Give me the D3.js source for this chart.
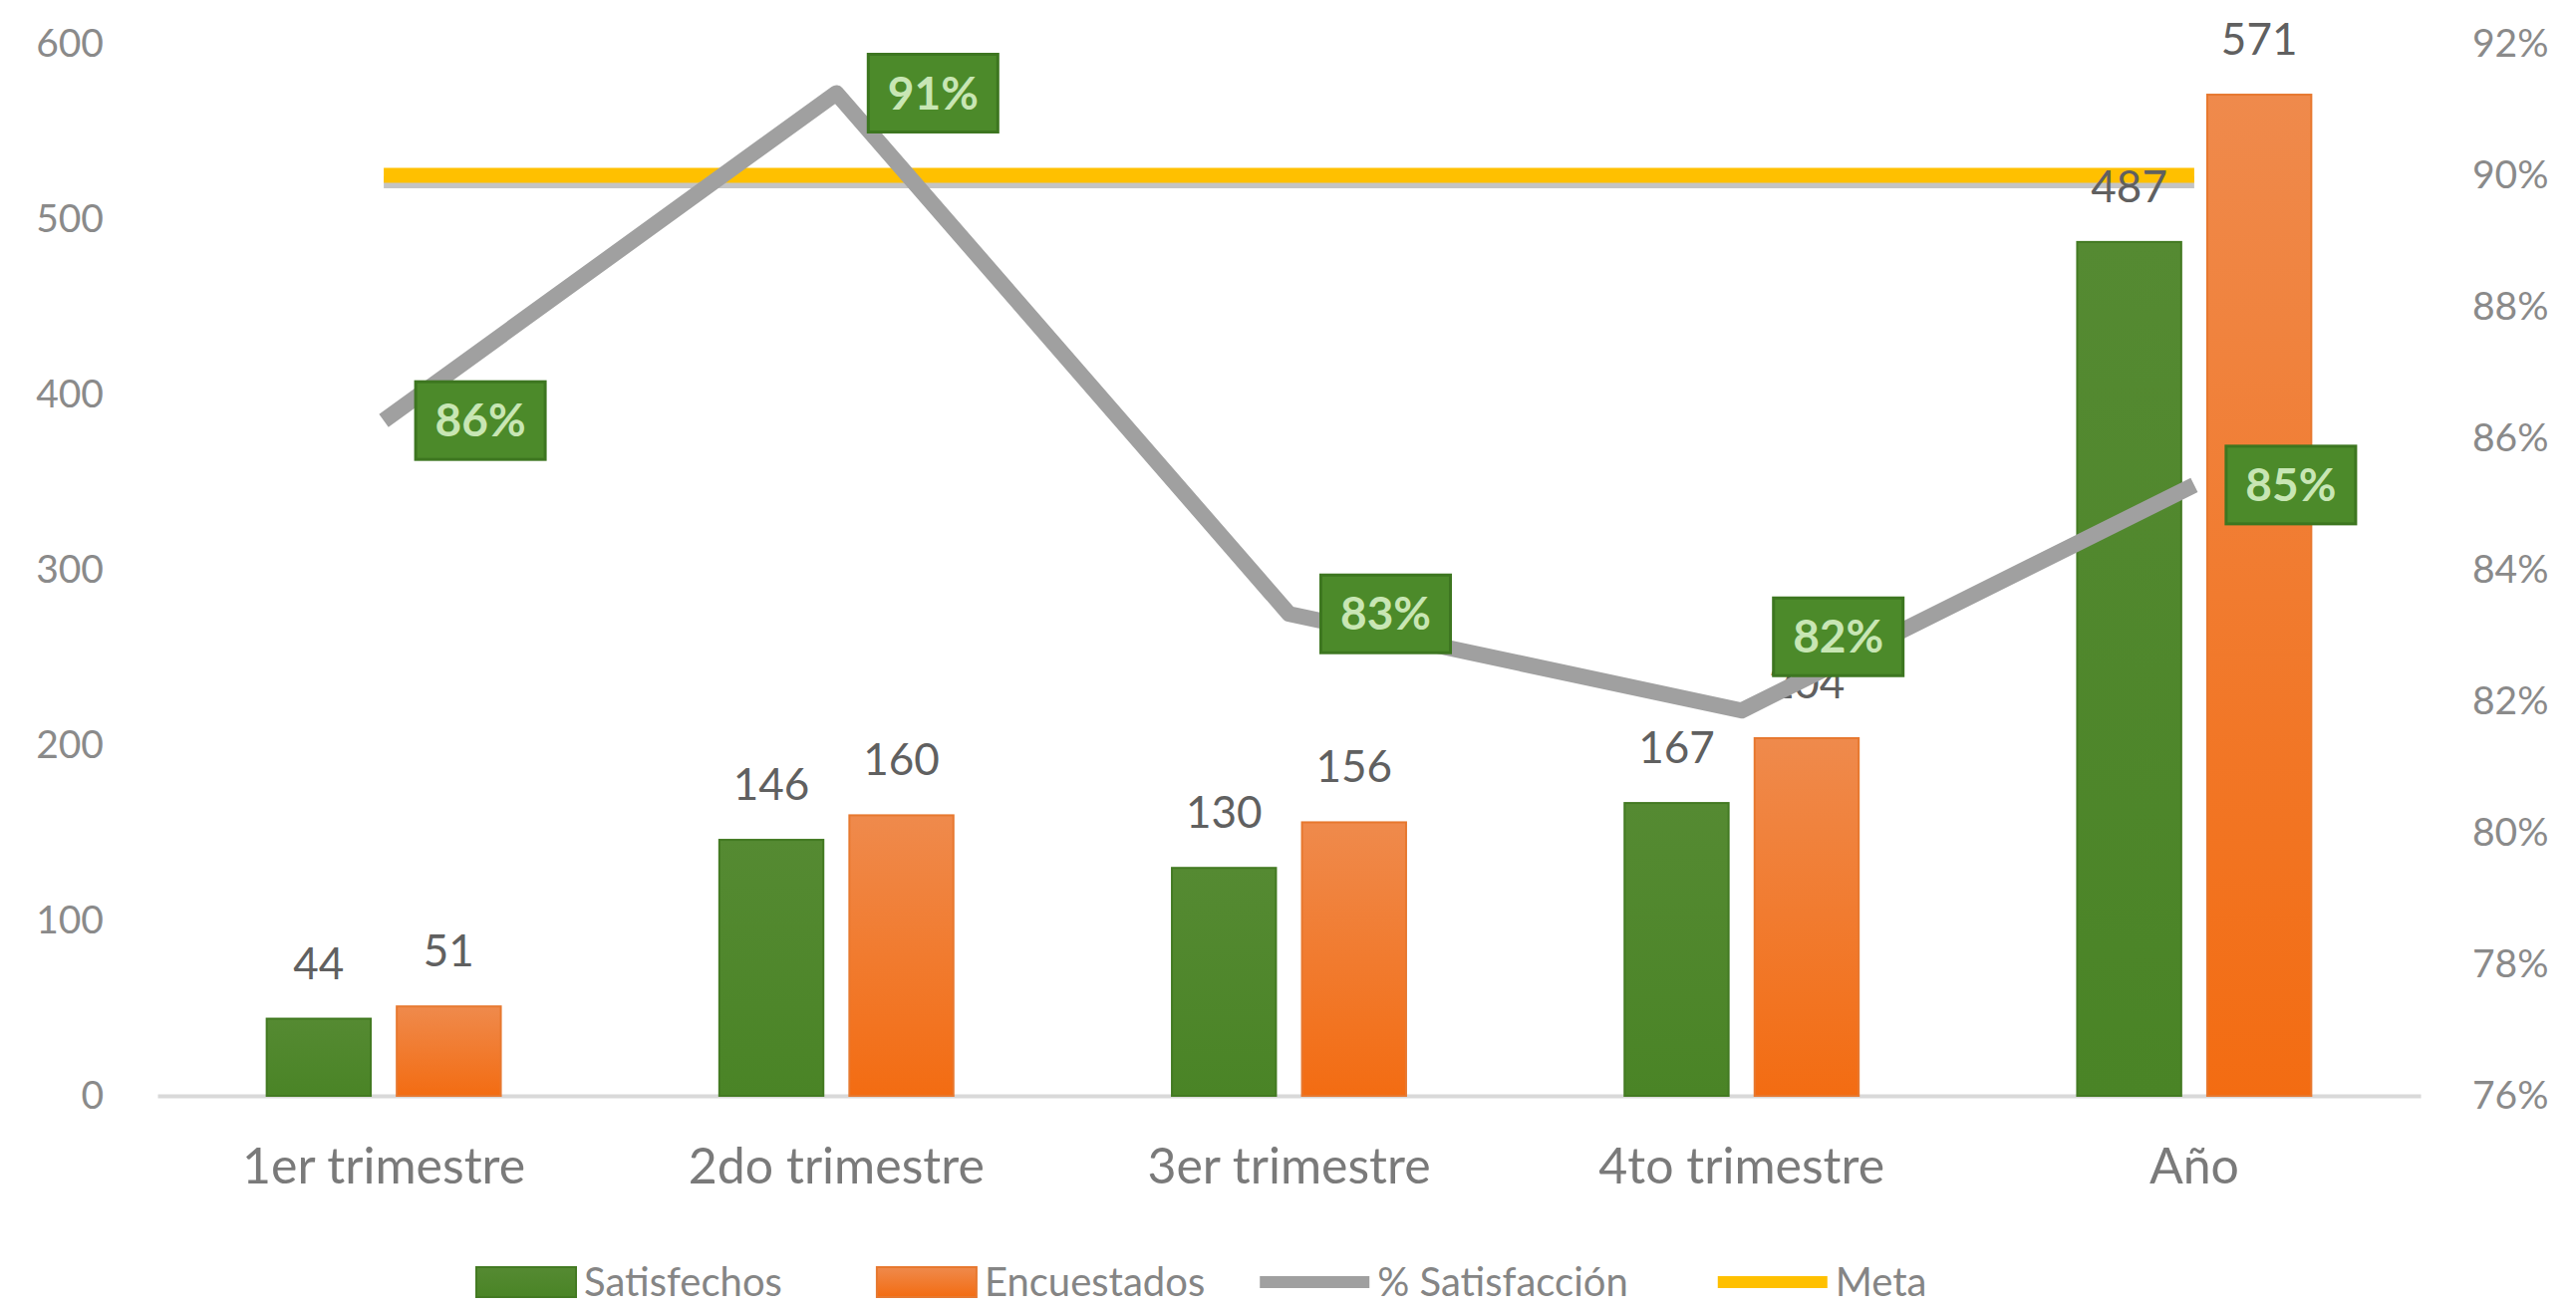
<!DOCTYPE html>
<html>
<head>
<meta charset="utf-8">
<script src="https://cdn.jsdelivr.net/npm/d3@7"></script>
<style>
  html, body { margin: 0; padding: 0; background: #fff; }
  svg { display: block; font-family: Lato, "Open Sans", sans-serif; }
</style>
</head>
<body>
<svg id="chart" width="2585" height="1315"></svg>
<script>
// chart data
const categories = ['1er trimestre', '2do trimestre', '3er trimestre', '4to trimestre', 'Año'];
const satisfechos = [44, 146, 130, 167, 487];
const encuestados = [51, 160, 156, 204, 571];
const satisfaccion = [0.8627, 0.9125, 0.8333, 0.8186, 0.8529];
const meta = [0.90, 0.90, 0.90, 0.90, 0.90];
const leftTicks = [0, 100, 200, 300, 400, 500, 600];
const rightTicks = [0.76, 0.78, 0.80, 0.82, 0.84, 0.86, 0.88, 0.90, 0.92];
const seriesNames = ['Satisfechos', 'Encuestados', '% Satisfacción', 'Meta'];

const svg = d3.select('#chart');
const plot = { left: 158, right: 2429, top: 44, bottom: 1100 };

// gradients
const defs = svg.append('defs');
function grad(id, top, bottom) {
  const g = defs.append('linearGradient').attr('id', id)
    .attr('x1', 0).attr('y1', 0).attr('x2', 0).attr('y2', 1);
  g.append('stop').attr('offset', '0%').attr('stop-color', top);
  g.append('stop').attr('offset', '100%').attr('stop-color', bottom);
}
grad('gGreen', '#558a32', '#4a8426');
grad('gOrange', '#ef8a4c', '#f36c12');

const x0 = d3.scaleBand().domain(categories).range([plot.left, plot.right]);
const x1 = d3.scaleBand().domain([0, 1]).range([0, x0.bandwidth()])
  .paddingInner(0.2).paddingOuter(0.84);
const y = d3.scaleLinear().domain([0, 600]).range([plot.bottom, plot.top]);
const y2 = d3.scaleLinear().domain([0.76, 0.92]).range([plot.bottom, plot.top]);

// axes
const gLeft = svg.append('g').attr('transform', `translate(${plot.left},0)`)
  .call(d3.axisLeft(y).tickValues(leftTicks).tickSize(0).tickPadding(54));
gLeft.select('.domain').remove();

const gRight = svg.append('g').attr('transform', `translate(${plot.right},0)`)
  .call(d3.axisRight(y2).tickValues(rightTicks).tickSize(0).tickPadding(52)
    .tickFormat(d3.format('.0%')));
gRight.select('.domain').remove();

[gLeft, gRight].forEach(g => g.selectAll('text')
  .attr('font-size', 39).attr('font-family', 'Lato').attr('fill', '#8a8a8a'));

const gBottom = svg.append('g').attr('transform', `translate(0,${plot.bottom})`)
  .call(d3.axisBottom(x0).tickSize(0).tickSizeOuter(0).tickPadding(52));
gBottom.select('.domain').attr('stroke', '#d9d9d9').attr('stroke-width', 4);
gBottom.selectAll('text').attr('font-size', 50).attr('font-family', 'Lato').attr('fill', '#7a7a7a');

// bars
const rows = categories.map((c, i) => ({ cat: c, vals: [satisfechos[i], encuestados[i]] }));
const fills = ['url(#gGreen)', 'url(#gOrange)'];
const strokes = ['#437a22', '#e7782f'];

const groups = svg.append('g').selectAll('g').data(rows).enter().append('g')
  .attr('transform', d => `translate(${x0(d.cat)},0)`);

groups.selectAll('rect').data(d => d.vals.map((v, k) => ({ v, k }))).enter().append('rect')
  .attr('x', d => x1(d.k))
  .attr('y', d => y(d.v))
  .attr('width', x1.bandwidth())
  .attr('height', d => y(0) - y(d.v))
  .attr('fill', d => fills[d.k])
  .attr('stroke', d => strokes[d.k])
  .attr('stroke-width', 2);

const cx = c => x0(c) + x0.bandwidth() / 2;

// meta line with a soft grey shadow under it
const metaLine = d3.line().x((d, i) => cx(categories[i])).y(d => y2(d));
svg.append('path').datum(meta)
  .attr('d', metaLine)
  .attr('transform', 'translate(0,7)')
  .attr('fill', 'none')
  .attr('stroke', '#9c9c9c')
  .attr('stroke-opacity', 0.6)
  .attr('stroke-width', 12);
svg.append('path').datum(meta)
  .attr('d', metaLine)
  .attr('fill', 'none')
  .attr('stroke', '#ffc000')
  .attr('stroke-width', 15);

// bar value labels, drawn over the meta line
const valueLabels = svg.append('g').selectAll('g').data(rows).enter().append('g')
  .attr('transform', d => `translate(${x0(d.cat)},0)`);
valueLabels.selectAll('text').data(d => d.vals.map((v, k) => ({ v, k }))).enter().append('text')
  .attr('x', d => x1(d.k) + x1.bandwidth() / 2)
  .attr('y', d => y(d.v) - 40)
  .attr('text-anchor', 'middle')
  .attr('font-size', 44)
  .attr('fill', '#606060')
  .text(d => d.v);

const satLine = d3.line().x((d, i) => cx(categories[i])).y(d => y2(d));
svg.append('path').datum(satisfaccion)
  .attr('d', satLine)
  .attr('fill', 'none')
  .attr('stroke', '#a0a0a0')
  .attr('stroke-width', 16)
  .attr('stroke-linejoin', 'round');

// % labels in green boxes, right of the points
const nudge = [0, 0, 0, -74, 0];
const lab = svg.append('g').selectAll('g').data(satisfaccion).enter().append('g')
  .attr('transform', (d, i) => `translate(${cx(categories[i]) + 32},${y2(d) + nudge[i]})`);
lab.append('rect')
  .attr('x', 0).attr('y', -39).attr('width', 130).attr('height', 78)
  .attr('fill', '#4c8a2a').attr('stroke', '#3d7620').attr('stroke-width', 3);
lab.append('text')
  .attr('x', 65).attr('y', 16)
  .attr('text-anchor', 'middle')
  .attr('font-size', 46)
  .attr('font-weight', 'bold')
  .attr('fill', '#c8e6b4')
  .text(d => d3.format('.0%')(d));

// legend
const legend = svg.append('g').attr('transform', 'translate(0,1287)');
const gaps = [95, 55, 90, 0];
let lx = 478;
seriesNames.forEach((name, i) => {
  if (i < 2) {
    legend.append('rect').attr('x', lx).attr('y', -15).attr('width', 100).attr('height', 30)
      .attr('fill', fills[i]).attr('stroke', strokes[i]).attr('stroke-width', 2);
  } else {
    legend.append('line').attr('x1', lx).attr('x2', lx + 110).attr('y1', 0).attr('y2', 0)
      .attr('stroke', i === 2 ? '#a0a0a0' : '#ffc000').attr('stroke-width', 12);
  }
  const t = legend.append('text').attr('x', lx + (i < 2 ? 108 : 118)).attr('y', 14)
    .attr('font-size', 40).attr('fill', '#858585').text(name);
  lx += (i < 2 ? 108 : 118) + t.node().getComputedTextLength() + gaps[i];
});
</script>
</body>
</html>
